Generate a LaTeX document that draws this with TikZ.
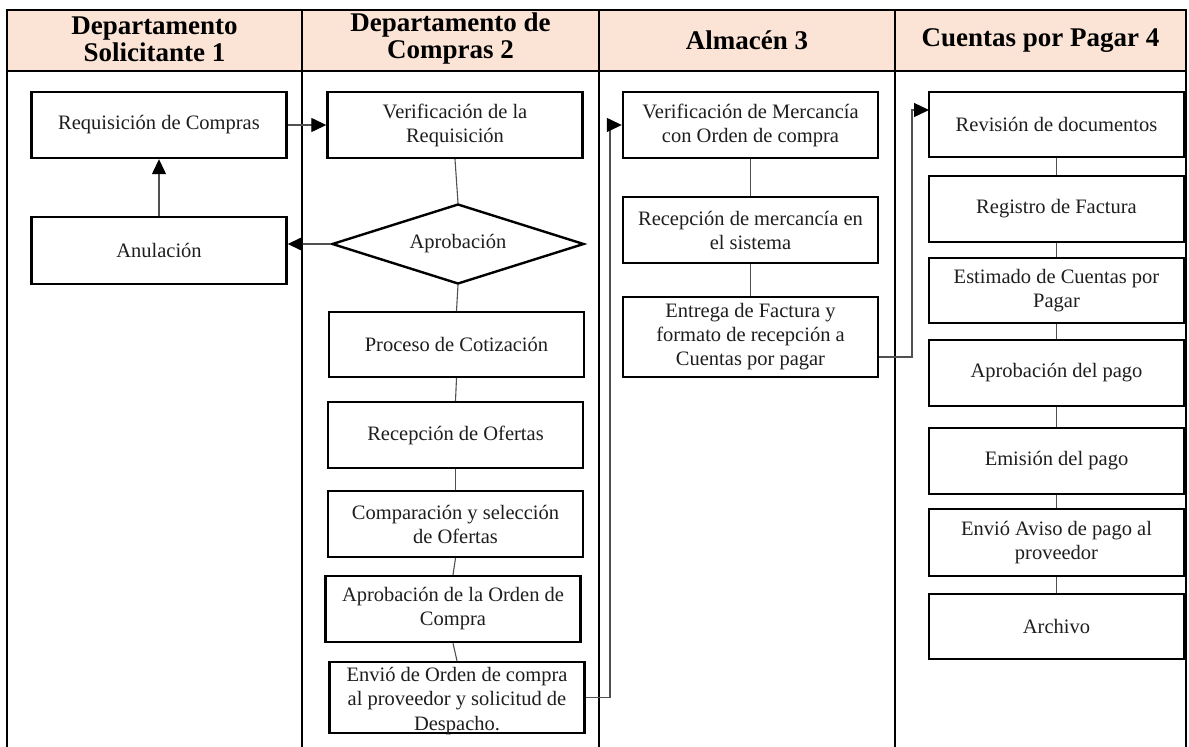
\documentclass[tikz,border=0pt]{standalone}
\usepackage{fontspec}
\setmainfont{Liberation Serif}
\usetikzlibrary{arrows.meta,shapes.geometric}
\definecolor{cabecera}{HTML}{FBE4D5}
\definecolor{linea}{HTML}{505050}
\definecolor{texto}{HTML}{1E1E1E}
\begin{document}
\begin{tikzpicture}[x=1pt,y=-1pt,
  caja/.style={draw,line width=2.4pt,minimum width=255pt,minimum height=66pt,align=center,inner sep=2pt,text=texto,font=\fontsize{20.5}{24}\selectfont},
  titulo/.style={align=center,text=black,font=\fontsize{27}{27}\selectfont\bfseries},
  enlace/.style={draw=linea,line width=1.1pt},
  flecha/.style={draw=linea,line width=1.3pt,-{Triangle[length=15pt,width=14pt,color=black]}}]
\useasboundingbox (0,0) rectangle (1189,747);
\fill[cabecera] (7,10) rectangle (1186,71);
\draw[line width=2pt] (7,747)--(7,10)--(1186,10)--(1186,747);
\draw[line width=2pt] (7,71)--(1186,71);
\draw[line width=2pt] (302,10)--(302,747);
\draw[line width=2pt] (599,10)--(599,747);
\draw[line width=2pt] (895,10)--(895,747);

\node[titulo] (t1) at (154.5,39) {Departamento\\Solicitante 1};
\node[titulo] (t2) at (450.5,39) {Departamento de\\Compras 2};
\node[titulo] (t3) at (747,40.5) {Almacén 3};
\node[titulo] (t4) at (1040.5,40.5) {Cuentas por Pagar 4};

\node[caja] (req) at (159,125) {Requisición de Compras};
\node[caja,minimum height=67pt] (anul) at (159,250.5) {Anulación};

\node[caja] (verif) at (455,125) {Verificación de la\\Requisición};
\node[draw,shape=diamond,aspect=3.15,line width=2.4pt,minimum width=252pt,minimum height=80pt,inner sep=0pt,text=texto,font=\fontsize{20.5}{24}\selectfont] (aprob) at (458,244) {Aprobación};
\node[caja,minimum height=65pt] (proc) at (456.5,344.5) {Proceso de Cotización};
\node[caja] (recof) at (455.5,435) {Recepción de Ofertas};
\node[caja] (comp) at (455.5,524) {Comparación y selección\\de Ofertas};
\node[caja] (aprord) at (453,609) {Aprobación de la Orden de\\Compra};
\node[caja,minimum height=71pt] (envio) at (457,697.5) {};
\node[align=center,anchor=north,inner sep=0pt,text=texto,font=\fontsize{20.5}{24.5}\selectfont] (envioTxt) at ([yshift=-6pt]envio.north) {Envió de Orden de compra\\al proveedor y solicitud de\\Despacho.};

\node[caja] (vmerc) at (750.5,125) {Verificación de Mercancía\\con Orden de compra};
\node[caja] (recmerc) at (750.5,230) {Recepción de mercancía en\\el sistema};
\node[caja,minimum height=80pt] (entrega) at (750.5,337) {Entrega de Factura y\\formato de recepción a\\Cuentas por pagar};

\node[caja,minimum height=65pt] (rev) at (1056.5,124.5) {Revisión de documentos};
\node[caja] (reg) at (1056.5,209) {Registro de Factura};
\node[caja,minimum height=65pt] (est) at (1056.5,290.5) {Estimado de Cuentas por\\Pagar};
\node[caja] (aprp) at (1056.5,373) {Aprobación del pago};
\node[caja] (emi) at (1056.5,461) {Emisión del pago};
\node[caja,minimum height=67pt] (aviso) at (1056.5,542.5) {Envió Aviso de pago al\\proveedor};
\node[caja,minimum height=65pt] (arch) at (1056.5,626.5) {Archivo};

\draw[flecha] (req.east) -- (verif.west);
\draw[flecha] (anul.north) -- (req.south);
\draw[flecha] (aprob.west) -- (aprob.west -| anul.east);
\draw[enlace] (verif.south) -- (aprob.north);
\draw[enlace] (aprob.south) -- (proc.north);
\foreach \a/\b in {proc/recof,recof/comp,comp/aprord,aprord/envio,vmerc/recmerc,recmerc/entrega,rev/reg,reg/est,est/aprp,aprp/emi,emi/aviso,aviso/arch}
  \draw[enlace] (\a.south) -- (\b.north);

\coordinate (codo1) at (610,0);
\draw[flecha] (envio.east) -| (codo1 |- vmerc.west) -- (vmerc.west);
\coordinate (codo2) at (912,0);
\coordinate (llegada) at (929,110);
\draw[flecha] ([yshift=-20pt]entrega.east) -| (codo2 |- llegada) -- (llegada);
\end{tikzpicture}
\end{document}
